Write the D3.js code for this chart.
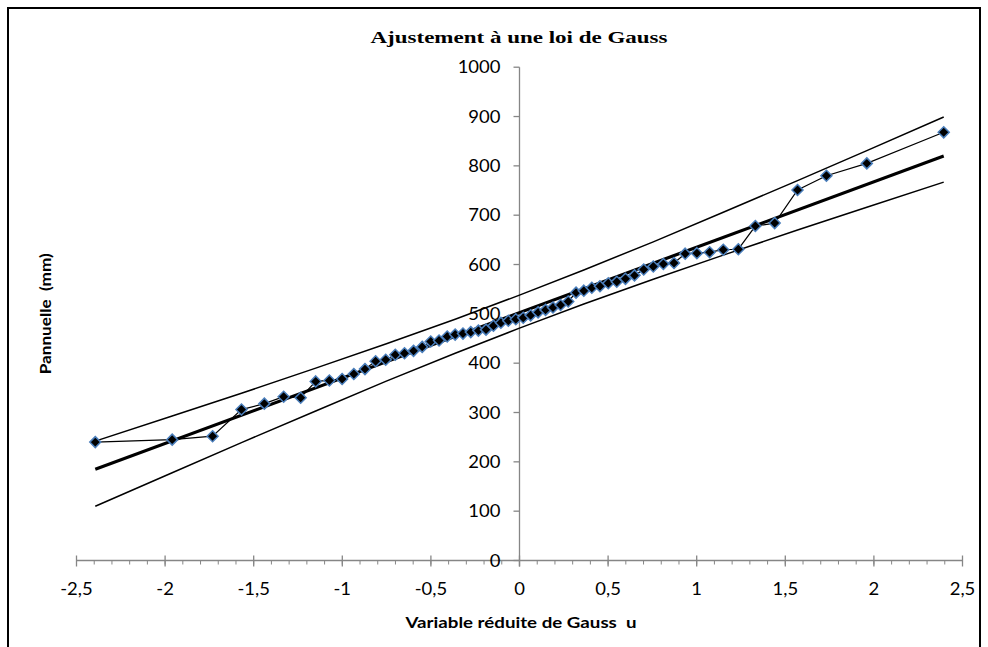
<!DOCTYPE html>
<html>
<head>
<meta charset="utf-8">
<script src="https://cdn.jsdelivr.net/npm/d3@7"></script>
<style>
  html, body { margin: 0; padding: 0; background: #fff; }
  svg { display: block; }
</style>
</head>
<body>
<svg id="chart" width="988" height="647"></svg>
<script>
// ---- Data ----
const titleText = "Ajustement à une loi de Gauss";
const xTitle = "Variable réduite de Gauss  u";
const yTitle = "Pannuelle  (mm)";

// Gauss reduced variable of each observation (n = 60)
const uValues = [
  -2.394, -1.960, -1.732, -1.569, -1.440, -1.331, -1.235, -1.150, -1.073, -1.001,
  -0.935, -0.872, -0.812, -0.755, -0.701, -0.649, -0.598, -0.549, -0.501, -0.454,
  -0.408, -0.363, -0.319, -0.275, -0.232, -0.189, -0.147, -0.105, -0.063, -0.021,
   0.021,  0.063,  0.105,  0.147,  0.189,  0.232,  0.275,  0.319,  0.363,  0.408,
   0.454,  0.501,  0.549,  0.598,  0.649,  0.701,  0.755,  0.812,  0.872,  0.935,
   1.001,  1.073,  1.150,  1.235,  1.331,  1.440,  1.569,  1.732,  1.960,  2.394
];
// Annual rainfall (mm), sorted
const pValues = [
  240, 245, 252, 306, 318, 332, 330, 363, 365, 368,
  378, 388, 404, 407, 417, 420, 425, 433, 444, 446,
  454, 458, 460, 463, 466, 468, 476, 482, 486, 489,
  492, 497, 503, 508, 513, 518, 525, 543, 547, 553,
  556, 562, 565, 571, 578, 590, 596, 601, 603, 622,
  623, 625, 630, 631, 678, 684, 751, 780, 805, 868
];

// Fitted Gauss line (ends)
const fitU = [-2.394, 2.394];
const fitP = [185, 820];

// Confidence bounds
const boundU = [-2.394, -1.960, -1.569, -1.150, -0.755, -0.363, 0, 0.363, 0.755, 1.150, 1.569, 1.960, 2.394];
const upperP = [242, 293, 339, 390, 439, 489, 538, 589, 646, 706, 770, 831, 899];
const lowerP = [110, 178, 239, 303, 363, 420, 471, 520, 570, 619, 670, 716, 767];

// Axis ticks
const xTicks = [-2.5, -2, -1.5, -1, -0.5, 0, 0.5, 1, 1.5, 2, 2.5];
const xMinorTicks = d3.range(-25, 26).map(d => d / 10);
const yTicks = [0, 100, 200, 300, 400, 500, 600, 700, 800, 900, 1000];

// ---- Drawing ----
const svg = d3.select("#chart");
const axisColor = "#868686";
const font = "Lato, 'Open Sans', sans-serif";

const x = d3.scaleLinear().domain([-2.5, 2.5]).range([76.5, 962.5]);
const y = d3.scaleLinear().domain([0, 1000]).range([560.5, 67.2]);

// outer frame
svg.append("rect")
  .attr("x", 8).attr("y", 8).attr("width", 972).attr("height", 660)
  .attr("fill", "none").attr("stroke", "#000").attr("stroke-width", 2);

// title
svg.append("text")
  .attr("x", 519).attr("y", 43)
  .attr("text-anchor", "middle")
  .attr("font-family", "'Liberation Serif', 'Times New Roman', serif")
  .attr("font-weight", "bold")
  .attr("font-size", 17)
  .attr("textLength", 297)
  .attr("lengthAdjust", "spacingAndGlyphs")
  .text(titleText);

// X axis (at y = 0)
const xAxisG = svg.append("g").attr("transform", `translate(0,${y(0)})`);
xAxisG.append("line")
  .attr("x1", x(-2.5)).attr("x2", x(2.5))
  .attr("stroke", axisColor).attr("stroke-width", 1.3);
xAxisG.selectAll("line.minor").data(xMinorTicks).join("line")
  .attr("class", "minor")
  .attr("x1", d => x(d)).attr("x2", d => x(d))
  .attr("y1", 0).attr("y2", 4)
  .attr("stroke", axisColor).attr("stroke-width", 1);
xAxisG.selectAll("line.major").data(xTicks).join("line")
  .attr("class", "major")
  .attr("x1", d => x(d)).attr("x2", d => x(d))
  .attr("y1", -5).attr("y2", 6)
  .attr("stroke", axisColor).attr("stroke-width", 1.3);

const fmt = d => String(d).replace(".", ",");
svg.selectAll("text.xtick").data(xTicks).join("text")
  .attr("class", "xtick")
  .attr("transform", d => `translate(${x(d)},595) scale(1.12,1)`)
  .attr("text-anchor", "middle")
  .attr("font-family", font).attr("font-size", 16.5)
  .attr("fill", "#000")
  .text(fmt);

// Y axis (at u = 0)
const yAxisG = svg.append("g").attr("transform", `translate(${x(0)},0)`);
yAxisG.append("line")
  .attr("y1", y(1000)).attr("y2", y(0) + 6)
  .attr("stroke", axisColor).attr("stroke-width", 1.3);
yAxisG.selectAll("line.ytick").data(yTicks).join("line")
  .attr("class", "ytick")
  .attr("x1", -6).attr("x2", 0)
  .attr("y1", d => y(d)).attr("y2", d => y(d))
  .attr("stroke", axisColor).attr("stroke-width", 1.3);
svg.selectAll("text.ytick").data(yTicks).join("text")
  .attr("class", "ytick")
  .attr("transform", d => `translate(${x(0) - 19},${y(d) + 6}) scale(1.12,1)`)
  .attr("text-anchor", "end")
  .attr("font-family", font).attr("font-size", 16.5)
  .attr("fill", "#000")
  .text(d => d);

// axis titles
svg.append("text")
  .attr("x", 521).attr("y", 628)
  .attr("text-anchor", "middle")
  .attr("font-family", font).attr("font-weight", "bold").attr("font-size", 16)
  .attr("textLength", 231)
  .attr("lengthAdjust", "spacingAndGlyphs")
  .style("white-space", "pre")
  .text(xTitle);
svg.append("text")
  .attr("transform", `translate(51,${(y(0) + y(1000)) / 2}) rotate(-90)`)
  .attr("text-anchor", "middle")
  .attr("font-family", font).attr("font-weight", "bold").attr("font-size", 16)
  .attr("textLength", 121)
  .attr("lengthAdjust", "spacingAndGlyphs")
  .style("white-space", "pre")
  .text(yTitle);

// lines
const line = d3.line().x(d => x(d[0])).y(d => y(d[1]));
const upper = boundU.map((u, i) => [u, upperP[i]]);
const lower = boundU.map((u, i) => [u, lowerP[i]]);
const fit = fitU.map((u, i) => [u, fitP[i]]);
const obs = uValues.map((u, i) => [u, pValues[i]]);

svg.append("path").attr("d", line(upper))
  .attr("fill", "none").attr("stroke", "#000").attr("stroke-width", 1.5);
svg.append("path").attr("d", line(lower))
  .attr("fill", "none").attr("stroke", "#000").attr("stroke-width", 1.5);
svg.append("path").attr("d", line(fit))
  .attr("fill", "none").attr("stroke", "#000").attr("stroke-width", 3.2);
svg.append("path").attr("d", line(obs))
  .attr("fill", "none").attr("stroke", "#000").attr("stroke-width", 1.2);

// markers (diamonds)
const r = 5.5;
svg.selectAll("path.pt").data(obs).join("path")
  .attr("class", "pt")
  .attr("transform", d => `translate(${x(d[0])},${y(d[1])})`)
  .attr("d", `M0,${-r}L${r},0L0,${r}L${-r},0Z`)
  .attr("fill", "#000")
  .attr("stroke", "#4A7EBB")
  .attr("stroke-width", 1.5);
</script>
</body>
</html>
